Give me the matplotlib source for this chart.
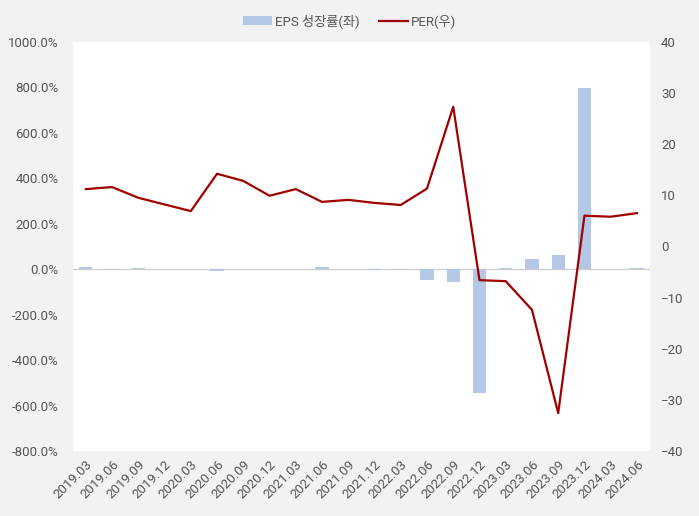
import matplotlib.pyplot as plt
import numpy as np

plt.rcParams['font.family'] = ['Roboto', 'Noto Sans CJK KR', 'DejaVu Sans']

quarters = ['2019.03', '2019.06', '2019.09', '2019.12', '2020.03', '2020.06', '2020.09',
            '2020.12', '2021.03', '2021.06', '2021.09', '2021.12', '2022.03', '2022.06',
            '2022.09', '2022.12', '2023.03', '2023.06', '2023.09', '2023.12', '2024.03', '2024.06']
eps_growth = [10, -6, 5, 0, 0, -10, 0, 0, 0, 10, 0, -4, -4, -50,
              -55, -545, 5, 45, 63, 795, 0, 5]
per = [11.2, 11.6, 9.5, 8.2, 6.9, 14.2, 12.8, 9.9, 11.2, 8.7, 9.1, 8.5, 8.1, 11.3,
       27.3, -6.6, -6.8, -12.4, -32.6, 6.0, 5.8, 6.5]

bar_color = '#b4c7e7'
line_color = '#a00000'
text_color = '#555555'

fig = plt.figure(figsize=(6.99, 5.16), dpi=100, facecolor='#f2f2f2')
ax = fig.add_axes([0.104, 0.126, 0.826, 0.793])
ax.set_facecolor('white')
x = np.arange(len(quarters))

ax.bar(x, eps_growth, width=0.5, color=bar_color, label='EPS 성장률(좌)', zorder=2)
ax.axhline(0, color='#d0d0d0', lw=1, zorder=1)
ax.set_ylim(-800, 1000)
ax.set_yticks(np.arange(-800, 1001, 200))
ax.set_yticklabels([f'{v:.1f}%' for v in np.arange(-800, 1001, 200)])
ax.set_xlim(-0.5, len(quarters) - 0.5)
ax.set_xticks(x)
ax.set_xticklabels(quarters, rotation=45, ha='right', rotation_mode='anchor')

ax2 = ax.twinx()
ax2.plot(x, per, color=line_color, lw=1.6, label='PER(우)', zorder=3)
ax2.set_ylim(-40, 40)
ax2.set_yticks(np.arange(-40, 41, 10))

for a in (ax, ax2):
    for s in a.spines.values():
        s.set_visible(False)
    a.tick_params(length=0, colors=text_color, labelsize=9.5)
ax.tick_params(axis='y', pad=10)
ax.tick_params(axis='x', pad=5)
ax2.tick_params(axis='y', pad=8)

h1, l1 = ax.get_legend_handles_labels()
h2, l2 = ax2.get_legend_handles_labels()
fig.legend(h1 + h2, l1 + l2, loc='upper center', bbox_to_anchor=(0.5, 0.995), ncol=2,
           frameon=False, fontsize=9.5, labelcolor=text_color, handlelength=2.2,
           handletextpad=0.2, columnspacing=1.5)

fig.savefig('out.png', dpi=100, facecolor=fig.get_facecolor())
plt.close()
